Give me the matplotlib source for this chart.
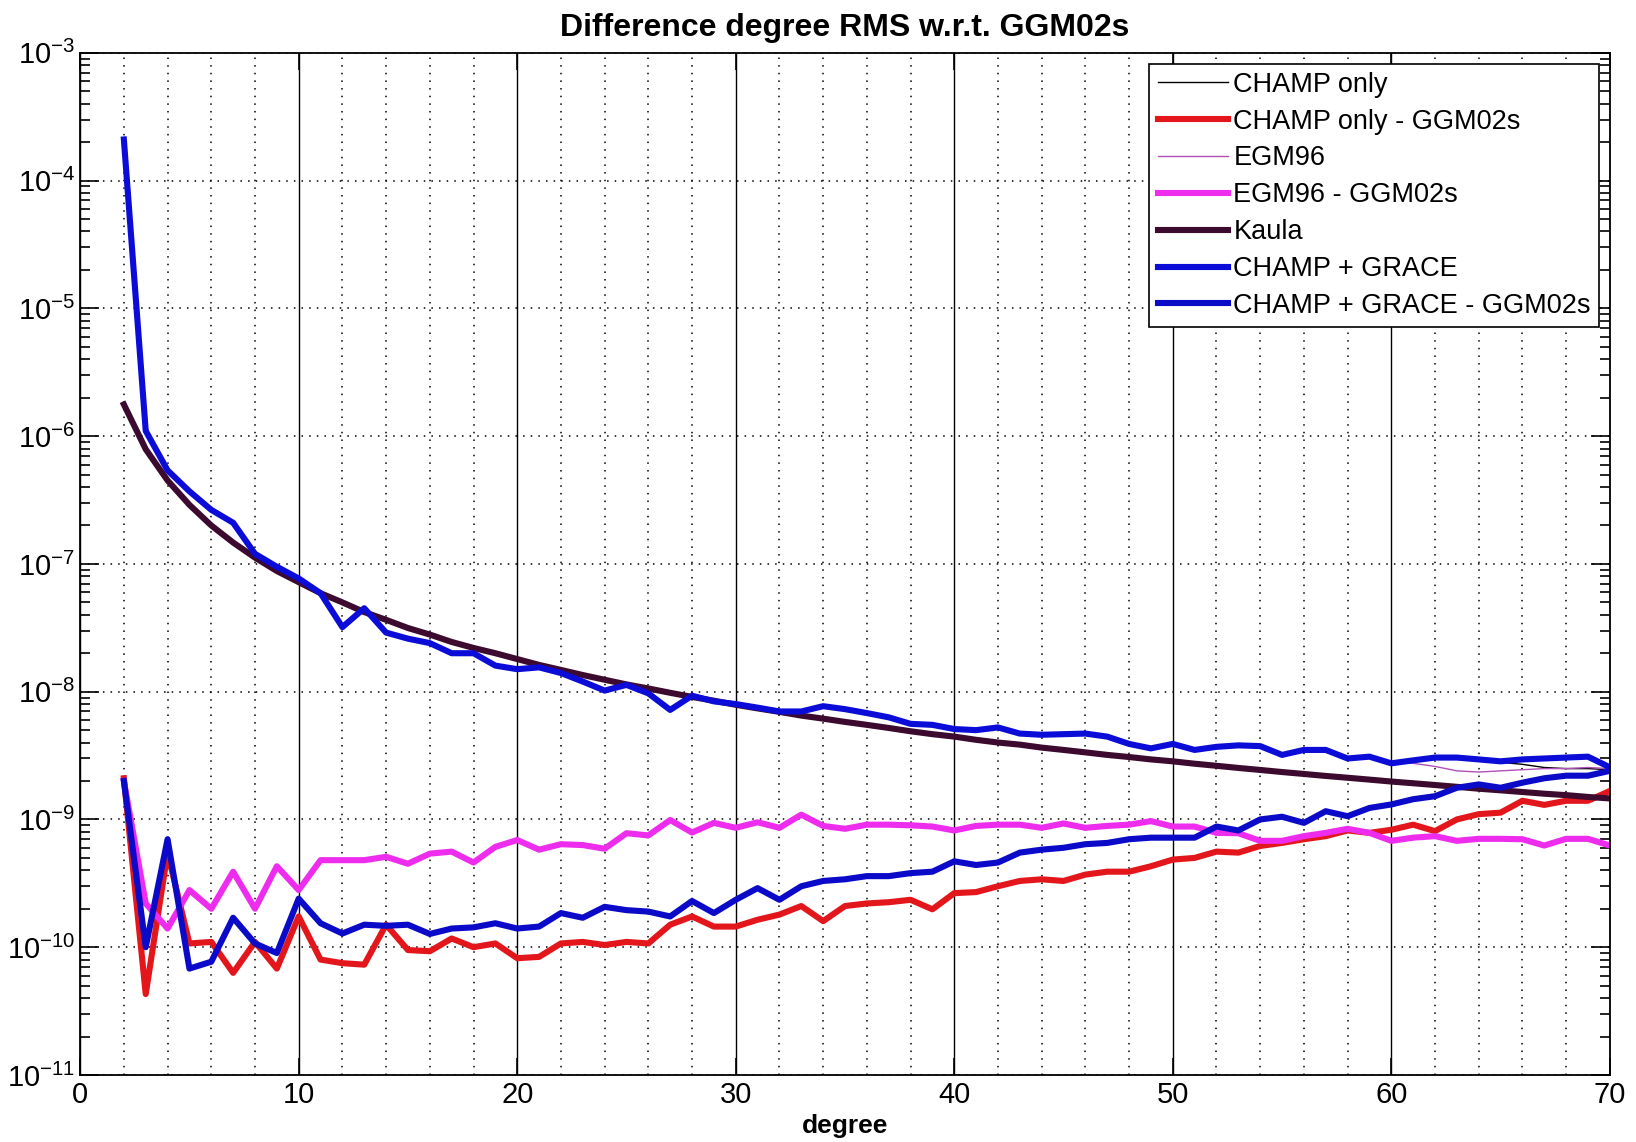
"""
Difference degree RMS w.r.t. GGM02s
Vẽ lại biểu đồ degree RMS (thang log) cho các mô hình trọng trường
"""

import numpy as np
import matplotlib
matplotlib.use("Agg")
import matplotlib.pyplot as plt
from matplotlib.ticker import MultipleLocator, LogLocator, LogFormatterMathtext, NullFormatter

plt.rcParams["font.family"] = ["Liberation Sans", "DejaVu Sans"]
plt.rcParams["mathtext.fontset"] = "custom"
plt.rcParams["mathtext.rm"] = "Liberation Sans"
plt.rcParams["mathtext.it"] = "Liberation Sans"
plt.rcParams["mathtext.bf"] = "Liberation Sans:bold"

# Bậc (degree) 2 -> 70
degree = np.arange(2, 71)

# Tín hiệu CHAMP only
champ_only = [
    2.1e-4, 1.1e-6, 5.4e-7, 3.7e-7, 2.65e-7, 2.1e-7, 1.2e-7, 9.5e-8, 7.7e-8, 5.9e-8,
    3.2e-8, 4.5e-8, 2.9e-8, 2.6e-8, 2.4e-8, 2.0e-8, 2.0e-8, 1.6e-8, 1.5e-8, 1.55e-8,
    1.4e-8, 1.2e-8, 1.02e-8, 1.13e-8, 9.7e-9, 7.2e-9, 9.3e-9, 8.4e-9, 8.0e-9, 7.5e-9,
    7.0e-9, 7.0e-9, 7.7e-9, 7.3e-9, 6.8e-9, 6.3e-9, 5.6e-9, 5.5e-9, 5.1e-9, 5.0e-9,
    5.25e-9, 4.7e-9, 4.6e-9, 4.65e-9, 4.7e-9, 4.45e-9, 3.9e-9, 3.6e-9, 3.9e-9, 3.5e-9,
    3.7e-9, 3.8e-9, 3.75e-9, 3.2e-9, 3.5e-9, 3.5e-9, 3.0e-9, 3.1e-9, 2.75e-9, 2.9e-9,
    3.05e-9, 3.05e-9, 2.9e-9, 2.8e-9, 2.7e-9, 2.55e-9, 2.5e-9, 2.5e-9, 2.45e-9,
]

# Sai khác CHAMP only - GGM02s
champ_only_diff = [
    2.1e-9, 4.3e-11, 5.5e-10, 1.07e-10, 1.1e-10, 6.3e-11, 1.1e-10, 6.8e-11, 1.74e-10, 8.0e-11,
    7.5e-11, 7.3e-11, 1.5e-10, 9.5e-11, 9.3e-11, 1.17e-10, 1.0e-10, 1.07e-10, 8.2e-11, 8.4e-11,
    1.07e-10, 1.1e-10, 1.04e-10, 1.1e-10, 1.07e-10, 1.5e-10, 1.74e-10, 1.45e-10, 1.45e-10, 1.64e-10,
    1.8e-10, 2.1e-10, 1.6e-10, 2.1e-10, 2.2e-10, 2.25e-10, 2.35e-10, 1.98e-10, 2.65e-10, 2.7e-10,
    3.0e-10, 3.3e-10, 3.4e-10, 3.3e-10, 3.7e-10, 3.9e-10, 3.9e-10, 4.3e-10, 4.85e-10, 5.0e-10,
    5.6e-10, 5.5e-10, 6.2e-10, 6.55e-10, 7.0e-10, 7.4e-10, 8.2e-10, 7.85e-10, 8.3e-10, 9.1e-10,
    8.1e-10, 1.0e-9, 1.1e-9, 1.13e-9, 1.4e-9, 1.3e-9, 1.4e-9, 1.4e-9, 1.67e-9,
]

# Tín hiệu EGM96
egm96 = [
    2.1e-4, 1.1e-6, 5.4e-7, 3.7e-7, 2.65e-7, 2.1e-7, 1.2e-7, 9.5e-8, 7.7e-8, 5.9e-8,
    3.2e-8, 4.5e-8, 2.9e-8, 2.6e-8, 2.4e-8, 2.0e-8, 2.0e-8, 1.6e-8, 1.5e-8, 1.55e-8,
    1.4e-8, 1.2e-8, 1.02e-8, 1.13e-8, 9.7e-9, 7.2e-9, 9.3e-9, 8.4e-9, 8.0e-9, 7.5e-9,
    7.0e-9, 7.0e-9, 7.7e-9, 7.3e-9, 6.8e-9, 6.3e-9, 5.6e-9, 5.5e-9, 5.1e-9, 5.0e-9,
    5.25e-9, 4.7e-9, 4.6e-9, 4.65e-9, 4.7e-9, 4.45e-9, 3.9e-9, 3.6e-9, 3.9e-9, 3.5e-9,
    3.7e-9, 3.8e-9, 3.75e-9, 3.2e-9, 3.5e-9, 3.5e-9, 3.0e-9, 3.1e-9, 2.75e-9, 2.75e-9,
    2.6e-9, 2.4e-9, 2.35e-9, 2.4e-9, 2.45e-9, 2.5e-9, 2.5e-9, 2.55e-9, 2.5e-9,
]

# Sai khác EGM96 - GGM02s
egm96_diff = [
    2.0e-9, 2.2e-10, 1.4e-10, 2.8e-10, 2.0e-10, 3.9e-10, 2.0e-10, 4.3e-10, 2.8e-10, 4.8e-10,
    4.8e-10, 4.8e-10, 5.1e-10, 4.5e-10, 5.4e-10, 5.6e-10, 4.6e-10, 6.1e-10, 6.9e-10, 5.8e-10,
    6.4e-10, 6.3e-10, 5.9e-10, 7.8e-10, 7.5e-10, 9.9e-10, 7.9e-10, 9.4e-10, 8.6e-10, 9.5e-10,
    8.6e-10, 1.09e-9, 8.9e-10, 8.45e-10, 9.1e-10, 9.1e-10, 9.0e-10, 8.8e-10, 8.2e-10, 8.9e-10,
    9.1e-10, 9.1e-10, 8.6e-10, 9.3e-10, 8.6e-10, 8.9e-10, 9.1e-10, 9.7e-10, 8.8e-10, 8.8e-10,
    7.85e-10, 7.8e-10, 6.8e-10, 6.8e-10, 7.4e-10, 7.85e-10, 8.45e-10, 7.85e-10, 6.8e-10, 7.2e-10,
    7.4e-10, 6.8e-10, 7.05e-10, 7.05e-10, 7.0e-10, 6.25e-10, 7.05e-10, 7.05e-10, 6.25e-10,
]

# Quy tắc Kaula
kaula = [
    1.77e-6, 7.9e-7, 4.5e-7, 2.9e-7, 2.0e-7, 1.47e-7, 1.12e-7, 8.8e-8, 7.2e-8, 5.9e-8,
    5.0e-8, 4.2e-8, 3.65e-8, 3.15e-8, 2.8e-8, 2.45e-8, 2.2e-8, 2.0e-8, 1.8e-8, 1.62e-8,
    1.48e-8, 1.35e-8, 1.24e-8, 1.14e-8, 1.06e-8, 9.8e-9, 9.1e-9, 8.5e-9, 7.9e-9, 7.4e-9,
    6.95e-9, 6.5e-9, 6.15e-9, 5.8e-9, 5.5e-9, 5.2e-9, 4.9e-9, 4.65e-9, 4.45e-9, 4.2e-9,
    4.0e-9, 3.85e-9, 3.65e-9, 3.5e-9, 3.35e-9, 3.2e-9, 3.08e-9, 2.95e-9, 2.85e-9, 2.73e-9,
    2.63e-9, 2.53e-9, 2.44e-9, 2.35e-9, 2.27e-9, 2.19e-9, 2.12e-9, 2.05e-9, 1.98e-9, 1.92e-9,
    1.86e-9, 1.8e-9, 1.74e-9, 1.69e-9, 1.64e-9, 1.59e-9, 1.55e-9, 1.5e-9, 1.46e-9,
]

# Tín hiệu CHAMP + GRACE
champ_grace = [
    2.1e-4, 1.1e-6, 5.4e-7, 3.7e-7, 2.65e-7, 2.1e-7, 1.2e-7, 9.5e-8, 7.7e-8, 5.9e-8,
    3.2e-8, 4.5e-8, 2.9e-8, 2.6e-8, 2.4e-8, 2.0e-8, 2.0e-8, 1.6e-8, 1.5e-8, 1.55e-8,
    1.4e-8, 1.2e-8, 1.02e-8, 1.13e-8, 9.7e-9, 7.2e-9, 9.3e-9, 8.4e-9, 8.0e-9, 7.5e-9,
    7.0e-9, 7.0e-9, 7.7e-9, 7.3e-9, 6.8e-9, 6.3e-9, 5.6e-9, 5.5e-9, 5.1e-9, 5.0e-9,
    5.25e-9, 4.7e-9, 4.6e-9, 4.65e-9, 4.7e-9, 4.45e-9, 3.9e-9, 3.6e-9, 3.9e-9, 3.5e-9,
    3.7e-9, 3.8e-9, 3.75e-9, 3.2e-9, 3.5e-9, 3.5e-9, 3.0e-9, 3.1e-9, 2.75e-9, 2.9e-9,
    3.05e-9, 3.05e-9, 2.95e-9, 2.85e-9, 2.95e-9, 3.0e-9, 3.05e-9, 3.1e-9, 2.56e-9,
]

# Sai khác CHAMP + GRACE - GGM02s
champ_grace_diff = [
    2.0e-9, 1.0e-10, 7.0e-10, 6.8e-11, 7.7e-11, 1.7e-10, 1.07e-10, 9.0e-11, 2.4e-10, 1.54e-10,
    1.28e-10, 1.5e-10, 1.47e-10, 1.5e-10, 1.27e-10, 1.4e-10, 1.43e-10, 1.54e-10, 1.4e-10, 1.45e-10,
    1.85e-10, 1.7e-10, 2.07e-10, 1.95e-10, 1.9e-10, 1.74e-10, 2.3e-10, 1.85e-10, 2.35e-10, 2.9e-10,
    2.35e-10, 3.0e-10, 3.3e-10, 3.4e-10, 3.6e-10, 3.6e-10, 3.8e-10, 3.9e-10, 4.7e-10, 4.4e-10,
    4.6e-10, 5.5e-10, 5.8e-10, 6.0e-10, 6.4e-10, 6.55e-10, 7.0e-10, 7.2e-10, 7.2e-10, 7.2e-10,
    8.8e-10, 8.2e-10, 1.0e-9, 1.05e-9, 9.4e-10, 1.16e-9, 1.06e-9, 1.23e-9, 1.31e-9, 1.44e-9,
    1.52e-9, 1.77e-9, 1.88e-9, 1.77e-9, 1.94e-9, 2.1e-9, 2.2e-9, 2.2e-9, 2.4e-9,
]

x_ticks = [0, 10, 20, 30, 40, 50, 60, 70]
y_ticks = [1e-11, 1e-10, 1e-9, 1e-8, 1e-7, 1e-6, 1e-5, 1e-4, 1e-3]

fig = plt.figure(figsize=(16.36, 11.42), dpi=100)
ax = fig.add_axes([0.049, 0.0587, 0.935, 0.895])

ax.semilogy(degree, champ_only, color="black", linewidth=1.0, label="CHAMP only")
ax.semilogy(degree, champ_only_diff, color="#e3161c", linewidth=4.4, label="CHAMP only - GGM02s")
ax.semilogy(degree, egm96, color="#b050b8", linewidth=1.0, label="EGM96")
ax.semilogy(degree, egm96_diff, color="#ee2cee", linewidth=4.4, label="EGM96 - GGM02s")
ax.semilogy(degree, kaula, color="#3c0a2e", linewidth=4.4, label="Kaula")
ax.semilogy(degree, champ_grace, color="#0c0cd8", linewidth=4.4, label="CHAMP + GRACE")
ax.semilogy(degree, champ_grace_diff, color="#0a0ac8", linewidth=4.4, label="CHAMP + GRACE - GGM02s")

ax.set_xlim(0, 70)
ax.set_ylim(1e-11, 1e-3)
ax.set_xticks(x_ticks)
ax.xaxis.set_minor_locator(MultipleLocator(2))
ax.set_yticks(y_ticks)
ax.yaxis.set_minor_locator(LogLocator(base=10, subs=np.arange(2, 10), numticks=20))
ax.yaxis.set_major_formatter(LogFormatterMathtext())
ax.yaxis.set_minor_formatter(NullFormatter())

# Lưới: dọc chấm mỗi 2 bậc, dọc liền mỗi 10 bậc, ngang chấm mỗi decade
ax.xaxis.grid(True, which="minor", linestyle=(0, (1, 4)), color="black", linewidth=1.1)
ax.xaxis.grid(True, which="major", linestyle="-", color="black", linewidth=1.0)
ax.yaxis.grid(True, which="major", linestyle=(0, (1, 4)), color="black", linewidth=1.1)

ax.tick_params(which="both", direction="in", top=True, right=True, labelsize=21, width=1.2)
ax.tick_params(axis="y", which="major", length=14)
ax.tick_params(axis="y", which="minor", length=7)
ax.tick_params(axis="x", which="major", length=12, pad=4)
ax.tick_params(axis="x", which="minor", length=0)
for sp in ax.spines.values():
    sp.set_linewidth(1.3)

ax.set_title("Difference degree RMS w.r.t. GGM02s", fontsize=23, fontweight="bold", pad=12)
ax.set_xlabel("degree", fontsize=19, fontweight="bold", labelpad=4)

leg = ax.legend(loc="upper right", fontsize=19.5, fancybox=False, framealpha=1,
                edgecolor="black", borderaxespad=0.4, handlelength=2.6,
                handletextpad=0.2, labelspacing=0.4, borderpad=0.3)
leg.get_frame().set_linewidth(1.2)

plt.savefig("out.png", dpi=100)
plt.close()
